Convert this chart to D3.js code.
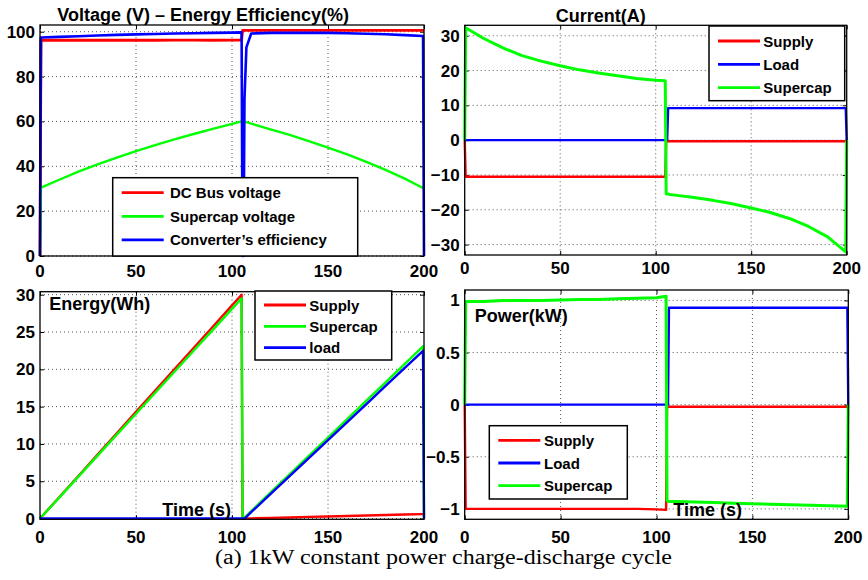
<!DOCTYPE html>
<html>
<head>
<meta charset="utf-8">
<script src="https://cdn.jsdelivr.net/npm/d3@7"></script>
<style>
  body { margin: 0; background: #fff; }
  svg { display: block; }
  text { font-family: "Liberation Sans", Arial, Helvetica, sans-serif; font-weight: bold; fill: #000; }
  .caption { font-family: "Liberation Serif", "DejaVu Serif", serif; font-weight: normal; }
</style>
</head>
<body>
<svg id="fig" width="868" height="580"></svg>
<script>
// Sample instants (s) shared by every recorded trace of the 1 kW cycle
const time = [0, 0.5, 10, 20, 30, 40, 50, 60, 70, 80, 90, 100, 105, 105.5, 106, 106.5, 107.5, 110,
              120, 130, 140, 150, 160, 170, 180, 190, 199.5, 200];

// Voltage (V) and converter efficiency (%)
const busVoltage = [0, 96.2, 96.3, 96.2, 96.3, 96.2, 96.3, 96.2, 96.3, 96.3, 96.2, 96.3, 96.3, 100.6, 100.6, 100.6,
                    100.6, 100.6, 100.6, 100.6, 100.6, 100.6, 100.6, 100.6, 100.6, 100.6, 100.6, 100.6];
const scVoltage = [0, 30.5, 34, 37.6, 40.9, 43.9, 46.8, 49.4, 52, 54.4, 56.7, 58.9, 60, 60, 60, 59.9,
                   59.7, 59, 56.5, 54, 51.2, 48.3, 45.3, 42, 38.4, 34.5, 30.3, 30];
const efficiency = [0, 97.4, 97.7, 98, 98.3, 98.6, 98.8, 99, 99.2, 99.3, 99.5, 99.6, 99.7, 0, 0, 70,
                    93, 99.2, 99.5, 99.5, 99.5, 99.5, 99.3, 99.1, 98.9, 98.5, 98.1, 0];

// Currents (A)
const supplyCurrent = [0, -10.5, -10.5, -10.5, -10.5, -10.5, -10.5, -10.5, -10.5, -10.5, -10.5, -10.5, -10.5, -0.3, -0.3, -0.3,
                       -0.3, -0.3, -0.3, -0.3, -0.3, -0.3, -0.3, -0.3, -0.3, -0.3, -0.3, 0];
const loadCurrent = [0, 0, 0, 0, 0, 0, 0, 0, 0, 0, 0, 0, 0, 0, 0, 9.2,
                     9.2, 9.2, 9.2, 9.2, 9.2, 9.2, 9.2, 9.2, 9.2, 9.2, 9.2, 0];
const scCurrent = [0, 32.3, 29.2, 26.5, 24.3, 22.7, 21.4, 20.2, 19.3, 18.5, 17.7, 17.2, 17.1, -15.4, -15.5, -15.5,
                   -15.6, -15.8, -16.5, -17.3, -18.3, -19.5, -20.8, -22.5, -24.8, -27.8, -32.1, 0];

// Energy (Wh)
const supplyEnergy = [0, 0.14, 2.86, 5.71, 8.57, 11.43, 14.29, 17.14, 20, 22.86, 25.71, 28.57, 30, 0, 0, 0,
                      0.01, 0.03, 0.09, 0.15, 0.22, 0.28, 0.34, 0.41, 0.47, 0.54, 0.6, 0.6];
const scEnergy = [0, 0.14, 2.81, 5.62, 8.43, 11.24, 14.05, 16.86, 19.67, 22.48, 25.29, 28.1, 29.5, 0, 0, 0.12,
                  0.37, 0.99, 3.46, 5.92, 8.39, 10.86, 13.33, 15.8, 18.26, 20.73, 23.08, 0];
const loadEnergy = [0, 0, 0, 0, 0, 0, 0, 0, 0, 0, 0, 0, 0, 0, 0, 0,
                    0.24, 0.85, 3.26, 5.68, 8.1, 10.52, 12.93, 15.35, 17.77, 20.19, 22.48, 0];

// Power (kW)
const supplyPower = [0, -1.0, -1.0, -1.0, -1.0, -1.0, -1.0, -1.0, -1.0, -1.0, -1.0, -1.005, -1.01, -0.02, -0.02, -0.02,
                     -0.02, -0.02, -0.02, -0.02, -0.02, -0.02, -0.02, -0.02, -0.02, -0.02, -0.02, 0];
const loadPower = [0, 0, 0, 0, 0, 0, 0, 0, 0, 0, 0, 0, 0, 0, 0, 0.93,
                   0.93, 0.93, 0.93, 0.93, 0.93, 0.93, 0.93, 0.93, 0.93, 0.93, 0.93, 0];
const scPower = [0, 0.99, 0.99, 1.0, 1.0, 1.0, 1.005, 1.01, 1.01, 1.015, 1.02, 1.025, 1.04, -0.92, -0.93, -0.93,
                 -0.93, -0.93, -0.935, -0.94, -0.945, -0.95, -0.955, -0.96, -0.965, -0.97, -0.975, 0];

// Axis ticks
const timeTicks = [0, 50, 100, 150, 200];
const voltageTicks = [0, 20, 40, 60, 80, 100];
const currentTicks = [-30, -20, -10, 0, 10, 20, 30];
const energyTicks = [0, 5, 10, 15, 20, 25, 30];
const powerTicks = [-1, -0.5, 0, 0.5, 1];

// Legend labels
const voltageLegend = ["DC Bus voltage", "Supercap voltage", "Converter\u2019s efficiency"];
const currentLegend = ["Supply", "Load", "Supercap"];
const energyLegend = ["Supply", "Supercap", "load"];
const powerLegend = ["Supply", "Load", "Supercap"];

const RED = "#ff0000", GREEN = "#00ff00", BLUE = "#0000ff";
const svg = d3.select("#fig");
const fmt = v => (v < 0 ? "\u2212" : "") + String(Math.abs(v));

function drawPanel(cfg) {
  const x = d3.scaleLinear().domain([0, 200]).range([cfg.left, cfg.right]);
  const y = d3.scaleLinear().domain(cfg.yDomain).range([cfg.bottom, cfg.top]);
  const g = svg.append("g");

  // dotted grid
  g.append("g").selectAll("line").data(timeTicks.slice(1, -1)).join("line")
    .attr("x1", d => x(d)).attr("x2", d => x(d)).attr("y1", cfg.top).attr("y2", cfg.bottom)
    .attr("stroke", "#555").attr("stroke-width", 1).attr("stroke-dasharray", "1,3");
  g.append("g").selectAll("line").data(cfg.yTicks).join("line")
    .attr("x1", cfg.left).attr("x2", cfg.right).attr("y1", d => y(d)).attr("y2", d => y(d))
    .attr("stroke", "#555").attr("stroke-width", 1).attr("stroke-dasharray", "1,3");

  // inward tick marks on all four sides
  const tl = 4;
  g.append("g").call(d3.axisBottom(x).tickValues(timeTicks).tickSize(tl).tickFormat(""))
    .attr("transform", `translate(0,${cfg.top})`).call(a => a.select(".domain").remove());
  g.append("g").call(d3.axisTop(x).tickValues(timeTicks).tickSize(tl).tickFormat(""))
    .attr("transform", `translate(0,${cfg.bottom})`).call(a => a.select(".domain").remove());
  g.append("g").call(d3.axisRight(y).tickValues(cfg.yTicks).tickSize(tl).tickFormat(""))
    .attr("transform", `translate(${cfg.left},0)`).call(a => a.select(".domain").remove());
  g.append("g").call(d3.axisLeft(y).tickValues(cfg.yTicks).tickSize(tl).tickFormat(""))
    .attr("transform", `translate(${cfg.right},0)`).call(a => a.select(".domain").remove());

  // tick labels
  g.append("g").selectAll("text").data(timeTicks).join("text")
    .attr("x", d => x(d)).attr("y", cfg.bottom + cfg.xLabelOffset)
    .attr("text-anchor", "middle").attr("font-size", 17).text(d => d);
  g.append("g").selectAll("text").data(cfg.yTicks).join("text")
    .attr("x", cfg.left - 5).attr("y", d => y(d) + 6)
    .attr("text-anchor", "end").attr("font-size", 17).text(fmt);

  // traces
  const line = vals => d3.line().x((d, i) => x(time[i])).y(d => y(d))(vals);
  cfg.series.forEach(s => {
    g.append("path").attr("d", line(s.values)).attr("fill", "none")
      .attr("stroke", s.color).attr("stroke-width", s.width || 2.4)
      .attr("stroke-linejoin", "round");
  });

  // axes box
  g.append("rect").attr("x", cfg.left).attr("y", cfg.top)
    .attr("width", cfg.right - cfg.left).attr("height", cfg.bottom - cfg.top)
    .attr("fill", "none").attr("stroke", "#000").attr("stroke-width", 1.3);

  // legend
  const L = cfg.legend;
  const lg = g.append("g");
  lg.append("rect").attr("x", L.x).attr("y", L.y).attr("width", L.w).attr("height", L.h)
    .attr("fill", "#fff").attr("stroke", "#000").attr("stroke-width", 1.5);
  L.labels.forEach((lab, i) => {
    const cy = L.y + L.first + i * L.step;
    lg.append("line").attr("x1", L.x + 9).attr("x2", L.x + 51).attr("y1", cy).attr("y2", cy)
      .attr("stroke", L.colors[i]).attr("stroke-width", 2.8);
    lg.append("text").attr("x", L.x + L.textOff).attr("y", cy + 5.5)
      .attr("font-size", 15).text(lab);
  });

  // panel annotations
  (cfg.notes || []).forEach(n => {
    g.append("text").attr("x", n.x).attr("y", n.y).attr("font-size", 18)
      .attr("text-anchor", n.anchor || "start").text(n.text);
  });
}

drawPanel({
  left: 40, right: 424, top: 25, bottom: 256, yDomain: [0, 103], yTicks: voltageTicks, xLabelOffset: 20.5,
  series: [
    { values: busVoltage, color: RED, width: 2.8 },
    { values: scVoltage, color: GREEN },
    { values: efficiency, color: BLUE, width: 2.6 }
  ],
  legend: { x: 112.7, y: 177.7, w: 245, h: 78.3, first: 15, step: 23.6, textOff: 57.3,
            labels: voltageLegend, colors: [RED, GREEN, BLUE] },
  notes: [{ x: 57.3, y: 21, text: "Voltage (V) \u2013 Energy Efficiency(%)" }]
});

drawPanel({
  left: 464.7, right: 846.7, top: 25.3, bottom: 255, yDomain: [-33, 33], yTicks: currentTicks, xLabelOffset: 18.5,
  series: [
    { values: supplyCurrent, color: RED },
    { values: loadCurrent, color: BLUE },
    { values: scCurrent, color: GREEN, width: 3 }
  ],
  legend: { x: 709, y: 26, w: 135.7, h: 74.7, first: 15, step: 23.3, textOff: 54.3,
            labels: currentLegend, colors: [RED, BLUE, GREEN] },
  notes: [{ x: 555.7, y: 22, text: "Current(A)" }]
});

drawPanel({
  left: 40, right: 424, top: 291.7, bottom: 519.3, yDomain: [-0.1, 30.4], yTicks: energyTicks, xLabelOffset: 24,
  series: [
    { values: supplyEnergy, color: RED },
    { values: scEnergy, color: GREEN },
    { values: loadEnergy, color: BLUE }
  ],
  legend: { x: 255, y: 291, w: 136.7, h: 69, first: 14, step: 21.3, textOff: 54.3,
            labels: energyLegend, colors: [RED, GREEN, BLUE] },
  notes: [{ x: 49.3, y: 310, text: "Energy(Wh)" }, { x: 162.3, y: 516, text: "Time (s)" }]
});

drawPanel({
  left: 464.7, right: 848.3, top: 290, bottom: 519.3, yDomain: [-1.1, 1.1], yTicks: powerTicks, xLabelOffset: 24,
  series: [
    { values: supplyPower, color: RED },
    { values: loadPower, color: BLUE },
    { values: scPower, color: GREEN, width: 3 }
  ],
  legend: { x: 489.3, y: 425.7, w: 138, h: 73.3, first: 14.6, step: 22.7, textOff: 54.7,
            labels: powerLegend, colors: [RED, BLUE, GREEN] },
  notes: [{ x: 474.7, y: 322, text: "Power(kW)" }, { x: 673.3, y: 516, text: "Time (s)" }]
});

// figure caption
svg.append("text").attr("class", "caption")
  .attr("x", 215).attr("y", 564).attr("font-size", 20)
  .attr("textLength", 457).attr("lengthAdjust", "spacingAndGlyphs")
  .text("(a) 1kW constant power charge-discharge cycle");
</script>
</body>
</html>
